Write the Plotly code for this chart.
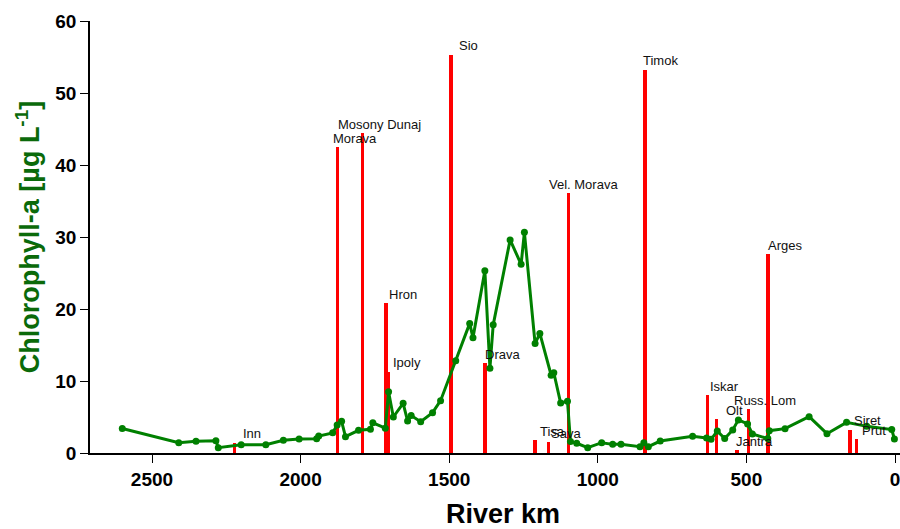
import plotly.graph_objects as go

# Chlorophyll-a along the river (river km, µg/L)
chl_km = [2600, 2410, 2352, 2285, 2277, 2200, 2117, 2058, 2005, 1946, 1939, 1892, 1877,
          1862, 1849, 1805, 1765, 1757, 1715, 1704, 1688, 1655, 1640, 1628, 1596, 1556,
          1529, 1478, 1431, 1420, 1380, 1363, 1352, 1295, 1258, 1247, 1211, 1195, 1157,
          1148, 1125, 1102, 1092, 1071, 1034, 987, 950, 922, 858, 845, 830, 790, 681,
          634, 619, 598, 573, 546, 527, 496, 480, 428, 423, 370, 289, 229, 163, 95, 11, 2]
chl_val = [3.4, 1.43, 1.62, 1.71, 0.74, 1.15, 1.15, 1.76, 1.94, 1.99, 2.36, 2.8, 3.9,
           4.4, 2.27, 3.15, 3.3, 4.2, 3.45, 8.5, 5.0, 6.9, 4.45, 5.2, 4.35, 5.6,
           7.27, 12.8, 18.0, 16.0, 25.3, 11.76, 17.8, 29.6, 26.2, 30.65, 15.2, 16.6, 10.8,
           11.15, 6.94, 7.2, 1.6, 1.35, 0.74, 1.43, 1.2, 1.2, 0.88, 1.43, 0.88, 1.66, 2.32,
           2.08, 1.9, 3.05, 2.0, 3.2, 4.6, 4.03, 2.64, 2.0, 3.1, 3.38, 5.05, 2.68, 4.26, 3.7, 3.25, 1.94]

# Tributaries
trib_names = ["Inn", "Morava", "Mosony Dunaj", "Hron", "Ipoly", "Sio", "Drava", "Tisa",
              "Sava", "Vel. Morava", "Timok", "Iskar", "Olt", "Jantra", "Russ. Lom",
              "Arges", "Siret", "Prut"]
trib_km = [2223, 1876, 1791, 1713, 1704, 1494, 1380, 1211, 1166, 1099, 841, 631, 600,
           532, 494, 427, 151, 129]
trib_val = [1.43, 42.5, 44.4, 20.8, 11.3, 55.3, 12.5, 1.8, 1.5, 36.1, 53.2, 8.05, 4.7,
            0.4, 6.07, 27.6, 3.2, 1.9]

x_ticks = [2500, 2000, 1500, 1000, 500, 0]
y_ticks = [0, 10, 20, 30, 40, 50, 60]

# label horizontal offsets (px) relative to bar
label_dx = [8, -5, -26, 2, 3, 7, -1, 4, 2, -20, -3, 2, 8, -2, -15, -1, 3, 4]

FONT = "Liberation Sans, Arial, sans-serif"

fig = go.Figure()
fig.add_trace(go.Scatter(
    x=chl_km, y=chl_val, mode="lines+markers",
    line=dict(color="#008000", width=3),
    marker=dict(color="#008000", size=7),
    showlegend=False, hoverinfo="skip"))
fig.add_trace(go.Bar(
    x=trib_km, y=trib_val, width=11,
    marker=dict(color="#ff0000", line=dict(width=0)),
    showlegend=False, hoverinfo="skip"))

for name, km, v, dx in zip(trib_names, trib_km, trib_val, label_dx):
    fig.add_annotation(x=km, y=v, text=name, showarrow=False,
                       xanchor="left", yanchor="middle", xshift=dx - 1, yshift=9,
                       font=dict(family=FONT, size=13, color="#111111"))

# x-axis title
fig.add_annotation(xref="paper", yref="paper", x=0.51, y=-0.142, text="River km",
                   showarrow=False, xanchor="center", yanchor="middle",
                   font=dict(family=FONT, size=27, color="black", weight="bold"))

fig.update_layout(
    width=900, height=529,
    margin=dict(l=90, r=0, t=21, b=76),
    plot_bgcolor="white", paper_bgcolor="white",
    font=dict(family=FONT),
    xaxis=dict(range=[2708.6, -16.8], tickvals=x_ticks, ticks="outside", ticklen=8,
               tickwidth=1.2, tickcolor="black", showline=True, linecolor="black",
               linewidth=1.5, showgrid=False, zeroline=False, ticklabeloverflow="allow",
               tickfont=dict(family=FONT, size=19, color="black", weight="bold")),
    yaxis=dict(range=[0, 60], tickvals=y_ticks, ticks="outside", ticklen=8,
               tickwidth=1.2, tickcolor="black", showline=True, linecolor="black",
               linewidth=1.5, showgrid=False, zeroline=False,
               tickfont=dict(family=FONT, size=19, color="black", weight="bold"),
               title=dict(text="Chlorophyll-a [µg L<sup>-1</sup>]", standoff=8,
                          font=dict(family=FONT, size=27, color="#0a6a0a", weight="bold"))),
    bargap=0,
)

fig.write_html("out.html")
